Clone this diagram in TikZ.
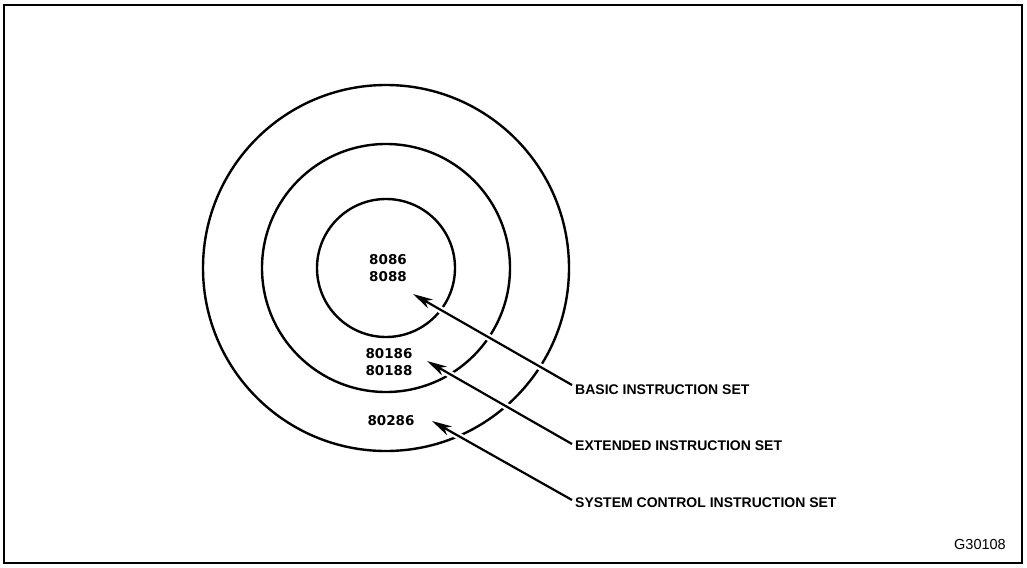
\documentclass[tikz,border=0pt]{standalone}
\usepackage{fontspec}
\setmainfont{Liberation Sans}
\newfontfamily\numfont{DejaVu Sans}
\usetikzlibrary{arrows.meta}
\tikzset{
  ring/.style={draw=black, line width=2.4pt},
  ptr/.style={line width=2.2pt, -{Stealth[length=20pt,width=10pt,inset=6pt]},
    preaction={draw=white, line width=7pt, -}},
  num/.style={font=\numfont\bfseries\fontsize{13.5}{17}\selectfont, align=center, inner sep=0pt},
  lbl/.style={font=\bfseries\fontsize{14}{16}\selectfont, anchor=west, inner sep=3pt},
}
\begin{document}
\begin{tikzpicture}[x=1pt,y=-1pt]
\useasboundingbox (0,0) rectangle (1027,567);
\draw[line width=1.4pt] (4,5) rectangle (1022,563);
\coordinate (c) at (386,268);
\draw[ring] (c) circle[radius=183pt];
\draw[ring] (c) circle[radius=124pt];
\draw[ring] (c) circle[radius=69pt];
\node[num] (n1) at (388,268) {8086\\8088};
\node[num] (n2) at (389,362) {80186\\80188};
\node[num] (n3) at (391,421) {80286};
\coordinate (t1) at (413,294);
\coordinate (t2) at (427,361);
\coordinate (t3) at (432,421);
\node[lbl] (l1) at (572,390) {BASIC INSTRUCTION SET};
\node[lbl] (l2) at (572,446) {EXTENDED INSTRUCTION SET};
\node[lbl] (l3) at (572,503) {SYSTEM CONTROL INSTRUCTION SET};
\draw[ptr] ([yshift=5pt]l1.west) -- (t1);
\draw[ptr] ([yshift=2pt]l2.west) -- (t2);
\draw[ptr] ([yshift=3pt]l3.west) -- (t3);
\node[font=\fontsize{14.5}{16}\selectfont, anchor=east, inner sep=0pt] (g) at (1006,545) {G30108};
\end{tikzpicture}
\end{document}
